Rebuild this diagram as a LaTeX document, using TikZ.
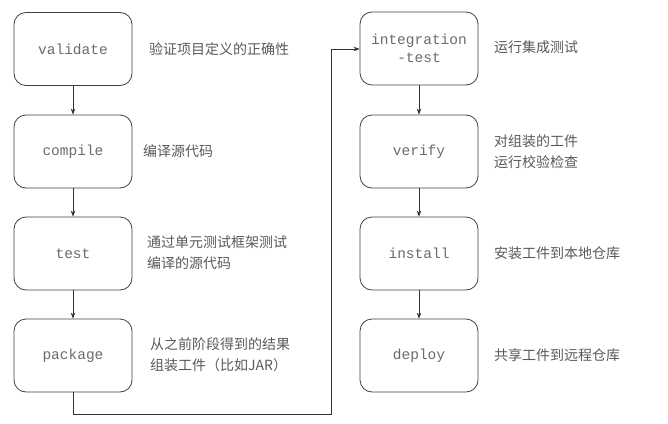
\documentclass[tikz,border=0pt]{standalone}
\usepackage{fontspec}
\setmonofont{Liberation Mono}
\newfontfamily\cjk{Noto Sans CJK SC}
\usetikzlibrary{arrows.meta}
\begin{document}
\begin{tikzpicture}[x=1pt,y=-1pt,
  phase/.style={draw=black!75, line width=0.8pt, rounded corners=12pt, minimum width=118pt, minimum height=73pt, inner sep=0pt, font=\ttfamily\fontsize{14.5}{18}\selectfont, text=black!58, align=center},
  desc/.style={anchor=west, font=\cjk\fontsize{14}{21}\selectfont, text=black!65, align=left, inner sep=0pt},
  conn/.style={draw=black!80, line width=0.8pt, -{Stealth[length=6pt,width=4.5pt]}}]
\useasboundingbox (0,0) rectangle (668,423);
\node[phase] (validate) at (73,49) {validate};
\node[phase] (compile) at (73,151.5) {compile};
\node[phase] (test) at (73,253.5) {test};
\node[phase] (package) at (73,355.5) {package};
\node[phase] (integ) at (419,48.5) {integration\\-test};
\node[phase] (verify) at (419,151.5) {verify};
\node[phase] (install) at (419,253.5) {install};
\node[phase] (deploy) at (419,355.5) {deploy};
\node[desc] (dvalidate) at (149,49) {验证项目定义的正确性};
\node[desc] (dcompile) at (143,151) {编译源代码};
\node[desc] (dtest) at (147,253) {通过单元测试框架测试\\编译的源代码};
\node[desc] (dpackage) at (150,355) {从之前阶段得到的结果\\组装工件（比如JAR）};
\node[desc] (dinteg) at (494,47) {运行集成测试};
\node[desc] (dverify) at (494,152) {对组装的工件\\运行校验检查};
\node[desc] (dinstall) at (494,253) {安装工件到本地仓库};
\node[desc] (ddeploy) at (494,355) {共享工件到远程仓库};
\coordinate (c1) at (73,414);
\coordinate (c2) at (331,414);
\coordinate (c3) at (331,49);
\draw[conn] (validate) -- (compile);
\draw[conn] (compile) -- (test);
\draw[conn] (test) -- (package);
\draw[conn] (integ) -- (verify);
\draw[conn] (verify) -- (install);
\draw[conn] (install) -- (deploy);
\draw[conn] (package.south) -- (c1) -- (c2) -- (c3) -- (integ.west |- c3);
\end{tikzpicture}
\end{document}
